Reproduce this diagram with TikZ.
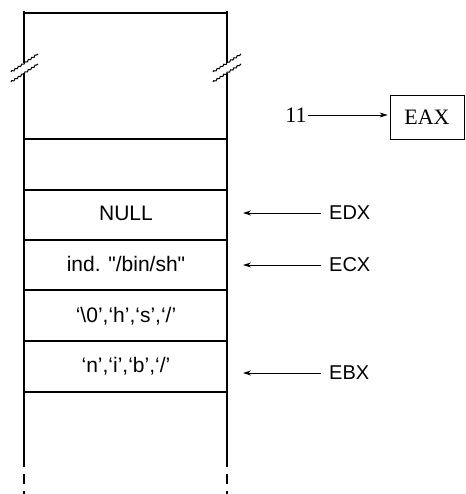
\documentclass[tikz,border=0pt]{standalone}
\usepackage{fontspec}
\newfontfamily\stackfont{Liberation Sans}
\newfontfamily\boxfont{Liberation Serif}
\usetikzlibrary{decorations.pathmorphing, arrows.meta}
\tikzset{
  wall/.style={line width=1.5pt},
  brk/.style={line width=1pt, decorate, decoration={snake, amplitude=0.7pt, segment length=4pt}},
  slot/.style={font=\stackfont\fontsize{21}{24}\selectfont, inner sep=0pt},
  reg/.style={font=\stackfont\fontsize{20}{24}\selectfont, anchor=west, inner sep=0pt},
}

\begin{document}
\begin{tikzpicture}[x=1pt, y=-1pt, >={Stealth[length=8pt, width=5pt]}]
    \useasboundingbox (0,0) rectangle (465,494);

    % stack walls, broken near the top, open at the bottom
    \foreach \wx in {24, 227} {
        \draw[wall] (\wx,11) -- (\wx,63);
        \draw[wall] (\wx,73) -- (\wx,457);
        \draw[wall, dash pattern=on 10pt off 7pt] (\wx,457) -- (\wx,494);
    }
    % break marks
    \draw[brk] (11,72) -- (38,54);
    \draw[brk] (11,82) -- (38,64);
    \draw[brk] (213,72) -- (241,54);
    \draw[brk] (213,82) -- (241,64);

    % slot boundaries
    \foreach \sy in {13, 139, 190, 240, 290, 341, 392}
        \draw[wall] (24,\sy) -- (227,\sy);

    % slot contents
    \node[slot] (null) at (126,213) {NULL};
    \node[slot] (ptr) at (126,264) {ind. "/bin/sh"};
    \node[slot] (hs) at (126,316) {‘\textbackslash 0’,‘h’,‘s’,‘/’};
    \node[slot] (nb) at (126,366) {‘n’,‘i’,‘b’,‘/’};

    % registers pointing into the stack
    \node[reg] (edx) at (329,213) {EDX};
    \node[reg] (ecx) at (329,265) {ECX};
    \node[reg] (ebx) at (329,373) {EBX};
    \coordinate (pdx) at (243,213);
    \coordinate (pcx) at (243,265);
    \coordinate (pbx) at (243,373);
    \draw[->, thick] ([xshift=-8pt]edx.west) -- (pdx);
    \draw[->, thick] ([xshift=-8pt]ecx.west) -- (pcx);
    \draw[->, thick] ([xshift=-8pt]ebx.west) -- (pbx);

    % syscall number
    \node[draw, thick, font=\boxfont\fontsize{22}{24}\selectfont, minimum width=74pt, minimum height=44pt, inner sep=0pt] (eax) at (427,117) {EAX};
    \node[font=\boxfont\fontsize{22}{24}\selectfont, inner sep=1pt] (num) at (296,115) {11};
    \draw[->, thick] (num.east) -- ([xshift=-2pt]num.east -| eax.west);
\end{tikzpicture}
\end{document}
